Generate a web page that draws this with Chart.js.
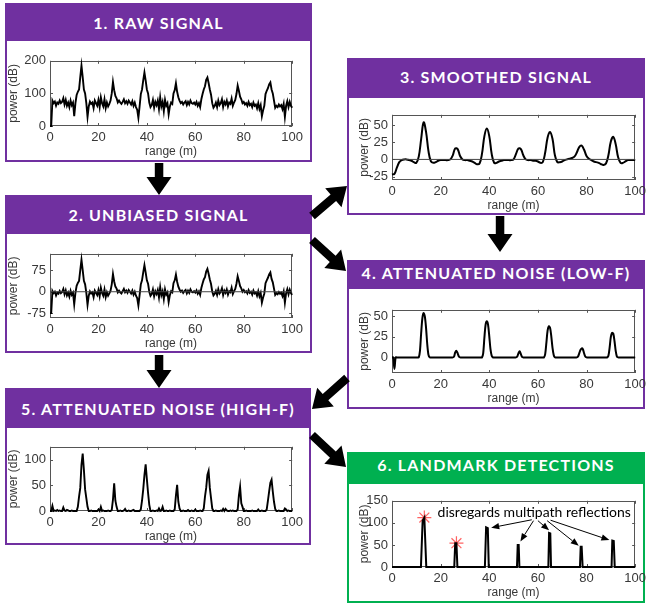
<!DOCTYPE html>
<html>
<head>
<meta charset="utf-8">
<script src="https://cdn.jsdelivr.net/npm/chart.js@4"></script>
<style>
body { margin:0; background:#fff; width:649px; height:608px; position:relative; overflow:hidden; }
.box { position:absolute; border:2px solid #7030a0; box-sizing:border-box; background:#fff; }
.box .head { position:absolute; left:0; top:0; right:0; background:#7030a0; color:#fff;
  font-family:Lato, 'Open Sans', sans-serif; font-weight:bold; font-size:16px; letter-spacing:1.2px; text-align:center; white-space:nowrap; }
.box.green { border-color:#00b050; }
.box.green .head { background:#00b050; }
canvas { position:absolute; z-index:2; }
svg { position:absolute; left:0; top:0; z-index:3; }
</style>
</head>
<body>

<div class="box" style="left:5px;top:3px;width:307px;height:159px"><div class="head" style="height:36px;line-height:36px">1. RAW SIGNAL</div></div>
<div class="box" style="left:5px;top:195px;width:307px;height:158px"><div class="head" style="height:37px;line-height:35px">2. UNBIASED SIGNAL</div></div>
<div class="box" style="left:347px;top:58px;width:298px;height:157px"><div class="head" style="height:38px;line-height:33px">3. SMOOTHED SIGNAL</div></div>
<div class="box" style="left:347px;top:260px;width:298px;height:149px"><div class="head" style="height:27px;line-height:21px">4. ATTENUATED NOISE (LOW-F)</div></div>
<div class="box" style="left:5px;top:388px;width:306px;height:157px"><div class="head" style="height:38px;line-height:37px">5. ATTENUATED NOISE (HIGH-F)</div></div>
<div class="box green" style="left:347px;top:452px;width:298px;height:151px"><div class="head" style="height:30px;line-height:22px">6. LANDMARK DETECTIONS</div></div>

<canvas id="c1" width="301" height="113" style="left:6px;top:49px"></canvas>
<canvas id="c2" width="301" height="112" style="left:6px;top:242px"></canvas>
<canvas id="c3" width="293" height="113" style="left:357px;top:103px"></canvas>
<canvas id="c4" width="293" height="111" style="left:357px;top:298px"></canvas>
<canvas id="c5" width="301" height="112" style="left:6px;top:435px"></canvas>
<canvas id="c6" width="293" height="114" style="left:357px;top:489px"></canvas>

<svg id="flow" width="649" height="608"></svg>

<script>
//-------------------------DATA (range sampled every 0.5 m unless noted)-------------------------

const rangeStep = 0.5;
const rangeTicks = [0, 20, 40, 60, 80, 100];

const rawPower = [
    0, 0, 78, 70, 75, 62, 72, 68, 78, 70, 74, 85, 66, 80, 62, 72, 58, 78, 64, 72,
    30, 70, 95, 105, 112, 150, 185, 150, 112, 100, 70, 28, 60, 75, 68, 72, 55, 78, 70, 62,
    80, 58, 88, 70, 60, 82, 55, 72, 60, 68, 78, 100, 135, 110, 92, 85, 72, 78, 72, 68,
    74, 82, 70, 76, 68, 78, 72, 66, 76, 62, 72, 58, 50, 25, 60, 98, 112, 140, 164, 140,
    112, 100, 72, 58, 64, 80, 56, 74, 64, 78, 52, 88, 60, 74, 46, 80, 62, 70, 36, 60,
    72, 68, 100, 110, 131, 105, 88, 78, 70, 74, 66, 72, 76, 64, 74, 66, 78, 70, 68, 72,
    66, 74, 62, 70, 58, 82, 98, 112, 122, 142, 149, 132, 112, 96, 70, 56, 62, 72, 58, 78,
    64, 70, 82, 58, 74, 66, 78, 60, 72, 68, 84, 62, 72, 80, 98, 124, 108, 90, 82, 70,
    74, 66, 70, 62, 74, 64, 68, 58, 72, 62, 66, 54, 70, 52, 64, 30, 48, 62, 98, 108,
    116, 128, 134, 112, 100, 78, 56, 62, 58, 66, 60, 64, 52, 68, 28, 62, 76, 58, 74, 62,
    56
];
const rawTicks = [0, 100, 200];

const unbiasedPower = [
    -75, -75, 3, -5, 0, -13, -3, -7, 3, -5, -1, 10, -9, 5, -13, -3, -17, 3, -11, -3,
    -44, -4, 21, 31, 38, 76, 112, 76, 38, 26, -4, -46, -14, 1, -6, -2, -19, 4, -4, -12,
    6, -16, 14, -4, -14, 8, -19, -2, -14, -6, 4, 26, 62, 36, 18, 11, -2, 4, -2, -6,
    2, 10, -2, 4, -4, 6, 0, -6, 4, -10, 0, -14, -22, -48, -12, 26, 40, 68, 93, 68,
    40, 28, 0, -14, -8, 8, -16, 2, -8, 6, -20, 16, -12, 2, -26, 8, -10, -2, -36, -12,
    2, -2, 30, 40, 60, 35, 18, 8, 0, 4, -4, 2, 6, -6, 4, -4, 8, 0, -2, 2,
    -3, 5, -7, 1, -11, 13, 29, 43, 51, 71, 80, 63, 43, 27, 1, -13, -7, 3, -11, 9,
    -6, 0, 12, -12, 4, -4, 8, -10, 2, -2, 14, -8, 2, 10, 28, 54, 38, 20, 12, 0,
    6, -2, 2, -6, 6, -4, 0, -10, 4, -6, -2, -14, 2, -16, -4, -38, -20, -6, 30, 40,
    49, 61, 68, 45, 33, 11, -11, -5, -9, -1, -7, -3, -15, 1, -38, -5, 9, -9, 7, -5,
    -11
];
const unbiasedTicks = [-75, 0, 75];

// smoothed signal, sampled every 1 m
const smoothStep = 1;
const smoothedPower = [
    -22, -21, -12, -4, -1, 0, 0, -1, -2, -4,
    -5, 4, 30, 54, 40, 12, -3, -5, -4, -2,
    -1, -1, -1, -1, 0, 6, 16, 15, 5, 0,
    -1, -1, -2, -3, -5, -7, -6, 8, 34, 45,
    34, 8, -5, -5, -3, -2, -1, -1, -1, -1,
    0, 8, 16, 15, 6, 0, -1, -1, -2, -2,
    -3, -5, -4, 10, 32, 40, 30, 6, -4, -4,
    -3, -1, 0, 1, 2, 4, 10, 18, 20, 14,
    5, 1, -1, -3, -4, -5, -7, -8, -6, 6,
    26, 33, 22, 3, -5, -5, -3, -1, -1, -1,
    -1
];
const smoothedTicks = [-25, 0, 25, 50];

const lowFPower = [
    0, 0, -14, 0, 0, 0, 0, 0, 0, 0, 0, 0, 0, 0, 0, 0, 0, 0, 0, 0,
    0, 0, 0, 8, 30, 48, 54, 50, 36, 16, 3, 0, 0, 0, 0, 0, 0, 0, 0, 0,
    0, 0, 0, 0, 0, 0, 0, 0, 0, 0, 0, 1, 6, 8, 5, 1, 0, 0, 0, 0,
    0, 0, 0, 0, 0, 0, 0, 0, 0, 0, 0, 0, 0, 0, 0, 5, 24, 40, 44, 40,
    26, 10, 2, 0, 0, 0, 0, 0, 0, 0, 0, 0, 0, 0, 0, 0, 0, 0, 0, 0,
    0, 0, 0, 1, 5, 7.5, 4, 0.5, 0, 0, 0, 0, 0, 0, 0, 0, 0, 0, 0, 0,
    0, 0, 0, 0, 0, 0, 4, 18, 33, 38, 36, 26, 12, 3, 0, 0, 0, 0, 0, 0,
    0, 0, 0, 0, 0, 0, 0, 0, 0, 0, 0, 0, 0, 1, 5, 9, 11, 10, 5, 1,
    0, 0, 0, 0, 0, 0, 0, 0, 0, 0, 0, 0, 0, 0, 0, 0, 0, 0, 2, 12,
    25, 30, 29, 20, 8, 1, 0, 0, 0, 0, 0, 0, 0, 0, 0, 0, 0, 0, 0, 0,
    0
];
const lowFTicks = [0, 25, 50];

const highFPower = [
    0, 0, 10, 0, 1, 0, 2, 0, 1, 0, 0, 7, 1, 0, 2, 1, 0, 0, 1, 0,
    0, 0, 0, 8, 28, 45, 90, 112, 80, 42, 25, 8, 0, 0, 1, 0, 0, 0, 0, 0,
    3, 0, 8, 0, 1, 0, 0, 0, 1, 0, 0, 2, 22, 54, 20, 8, 0, 0, 1, 0,
    0, 1, 4, 0, 0, 1, 0, 0, 1, 2, 0, 0, 0, 0, 0, 3, 20, 42, 70, 91,
    62, 35, 12, 0, 0, 1, 0, 0, 1, 0, 5, 0, 1, 8, 0, 0, 1, 0, 0, 1,
    0, 0, 0, 3, 30, 51, 18, 5, 0, 0, 1, 0, 0, 0, 2, 0, 0, 1, 0, 0,
    3, 0, 0, 0, 1, 0, 0, 5, 28, 45, 70, 78, 45, 25, 5, 0, 0, 1, 0, 0,
    0, 1, 0, 4, 0, 4, 1, 0, 0, 1, 0, 1, 0, 0, 0, 3, 30, 47, 15, 8,
    0, 0, 1, 0, 0, 0, 0, 1, 0, 0, 0, 0, 3, 0, 0, 1, 0, 0, 0, 3,
    20, 38, 55, 61, 38, 18, 4, 0, 0, 1, 0, 0, 0, 0, 5, 3, 0, 1, 0, 0,
    0
];
const highFTicks = [0, 50, 100];

const landmarkRange = [0, 11.9, 12.6, 13.3, 14.1, 25.6, 26.0, 26.5, 26.9, 38.2, 38.7, 39.4, 39.8,
    51.4, 51.7, 52.1, 52.4, 64.3, 64.6, 65.1, 65.4, 77.3, 77.6, 78.0, 78.4, 90.3, 90.6, 91.2, 91.6, 100];
const landmarkPower = [0, 0, 105, 112, 0, 0, 54, 54, 0, 0, 90, 88, 0,
    0, 50, 50, 0, 0, 77, 76, 0, 0, 46, 46, 0, 0, 60, 59, 0, 0];
const detectRange = [13.3, 26.5];
const detectPower = [112, 54];
const landmarkTicks = [0, 50, 100, 150];

const noteText = 'disregards multipath reflections';
const notePos = [58.5, 123];
// from (range, power) -> to (range, power)
const noteArrows = [
    [57.5, 107, 40.8, 89],
    [58.2, 105, 52.8, 58],
    [60, 105, 64.6, 83],
    [63.8, 105, 76.8, 48],
    [65.2, 106, 89.4, 61]
];

//-------------------------HELPERS-------------------------

const tickColor = '#383838';
const tickFont = {family: "'Liberation Sans', Arial, sans-serif", size: 13};
const titleFont = {family: "'Liberation Sans', Arial, sans-serif", size: 12};

function toPoints(values, step) {
    return values.map((v, i) => ({x: i * step, y: v}));
}

function xyPoints(xs, ys) {
    return xs.map((x, i) => ({x: x, y: ys[i]}));
}

function lineSet(points, width, tension) {
    return {data: points, borderColor: '#000', borderWidth: width, pointRadius: 0,
            tension: tension || 0, fill: false, clip: false};
}

function zeroLine() {
    return {data: [{x: 0, y: 0}, {x: 100, y: 0}], borderColor: '#444', borderWidth: 1,
            pointRadius: 0, fill: false};
}

// matlab-like box with ticks pointing inwards
const matlabAxes = {
    id: 'matlabAxes',
    beforeDatasetsDraw(chart) {
        const ctx = chart.ctx, a = chart.chartArea, sx = chart.scales.x, sy = chart.scales.y;
        ctx.save();
        ctx.strokeStyle = '#555';
        ctx.lineWidth = 1;
        ctx.strokeRect(Math.round(a.left) + 0.5, Math.round(a.top) + 0.5,
                       Math.round(a.width) - 1, Math.round(a.height) - 1);
        ctx.beginPath();
        sx.ticks.forEach(t => {
            const px = Math.round(sx.getPixelForValue(t.value)) + 0.5;
            ctx.moveTo(px, a.bottom); ctx.lineTo(px, a.bottom - 3);
            ctx.moveTo(px, a.top); ctx.lineTo(px, a.top + 3);
        });
        sy.ticks.forEach(t => {
            const py = Math.round(sy.getPixelForValue(t.value)) + 0.5;
            ctx.moveTo(a.left, py); ctx.lineTo(a.left + 3, py);
            ctx.moveTo(a.right, py); ctx.lineTo(a.right - 3, py);
        });
        ctx.stroke();
        ctx.restore();
    }
};

function makeChart(id, datasets, yMin, yMax, yTicks, yWidth, extra) {
    return new Chart(document.getElementById(id), {
        type: 'line',
        data: {datasets: datasets},
        options: {
            responsive: false,
            animation: false,
            layout: {padding: {top: 10, right: 12, left: 0, bottom: 0}},
            plugins: {legend: {display: false}, tooltip: {enabled: false}},
            scales: {
                x: {
                    type: 'linear', min: 0, max: 100,
                    grid: {display: false, drawTicks: false}, border: {display: false},
                    afterBuildTicks: s => { s.ticks = rangeTicks.map(v => ({value: v})); },
                    afterFit: s => { s.height = 36; },
                    ticks: {padding: 4, color: tickColor, font: tickFont, maxRotation: 0},
                    title: {display: true, text: 'range (m)', color: tickColor, font: titleFont,
                            padding: {top: 0, bottom: 3}}
                },
                y: {
                    type: 'linear', min: yMin, max: yMax,
                    grid: {display: false, drawTicks: false}, border: {display: false},
                    afterBuildTicks: s => { s.ticks = yTicks.map(v => ({value: v})); },
                    afterFit: s => { s.width = yWidth; },
                    ticks: {padding: 4, color: tickColor, font: tickFont},
                    title: {display: true, text: 'power (dB)', color: tickColor, font: titleFont,
                            padding: 0}
                }
            }
        },
        plugins: [matlabAxes].concat(extra || [])
    });
}

//-------------------------ANNOTATION FOR PANEL 6-------------------------

const noteLabel = {
    id: 'noteLabel',
    afterDatasetsDraw(chart) {
        const ctx = chart.ctx, sx = chart.scales.x, sy = chart.scales.y;
        ctx.save();
        ctx.fillStyle = '#000';
        ctx.strokeStyle = '#000';
        ctx.lineWidth = 1;
        ctx.font = "14px Lato, 'Open Sans', sans-serif";
        ctx.textAlign = 'center';
        ctx.textBaseline = 'middle';
        ctx.fillText(noteText, sx.getPixelForValue(notePos[0]), sy.getPixelForValue(notePos[1]));
        noteArrows.forEach(a => {
            const x1 = sx.getPixelForValue(a[0]), y1 = sy.getPixelForValue(a[1]);
            const x2 = sx.getPixelForValue(a[2]), y2 = sy.getPixelForValue(a[3]);
            const ang = Math.atan2(y2 - y1, x2 - x1);
            const hl = 8, hw = 3.2;
            const bx = x2 - Math.cos(ang) * hl, by = y2 - Math.sin(ang) * hl;
            ctx.beginPath();
            ctx.moveTo(x1, y1); ctx.lineTo(bx, by);
            ctx.stroke();
            ctx.beginPath();
            ctx.moveTo(x2, y2);
            ctx.lineTo(bx + Math.sin(ang) * hw, by - Math.cos(ang) * hw);
            ctx.lineTo(bx - Math.sin(ang) * hw, by + Math.cos(ang) * hw);
            ctx.closePath();
            ctx.fill();
        });
        ctx.restore();
    }
};

//-------------------------CHARTS-------------------------

makeChart('c1', [lineSet(toPoints(rawPower, rangeStep), 1.9)], 0, 200, rawTicks, 44);

makeChart('c2', [zeroLine(), lineSet(toPoints(unbiasedPower, rangeStep), 1.9)],
          -92, 133, unbiasedTicks, 44);

makeChart('c3', [zeroLine(), lineSet(toPoints(smoothedPower, smoothStep), 2, 0.4)],
          -30, 65, smoothedTicks, 35);

makeChart('c4', [lineSet(toPoints(lowFPower, rangeStep), 2, 0.3)],
          -19, 58, lowFTicks, 35);

makeChart('c5', [lineSet(toPoints(highFPower, rangeStep), 1.9)], 0, 125, highFTicks, 44);

makeChart('c6', [
    lineSet(xyPoints(landmarkRange, landmarkPower), 2),
    {data: xyPoints(detectRange, detectPower), showLine: false, pointStyle: 'star',
     pointRadius: 7, borderColor: 'rgba(255, 70, 70, 0.85)', borderWidth: 1.2, clip: false}
], 0, 150, landmarkTicks, 35, [noteLabel]);

//-------------------------FLOW ARROWS-------------------------

const flowArrows = [
    [159, 163, 159, 195],
    [312, 216, 347, 186],
    [312, 240, 346, 271],
    [500, 216, 500, 252],
    [347, 378, 312, 409],
    [312, 435, 346, 467],
    [159, 355, 159, 388]
];

function arrowPoly(x1, y1, x2, y2, shaft, head, headLen) {
    const len = Math.hypot(x2 - x1, y2 - y1);
    const ux = (x2 - x1) / len, uy = (y2 - y1) / len, nx = -uy, ny = ux;
    const bx = x2 - ux * headLen, by = y2 - uy * headLen;
    const pts = [
        [x1 + nx * shaft / 2, y1 + ny * shaft / 2],
        [bx + nx * shaft / 2, by + ny * shaft / 2],
        [bx + nx * head / 2, by + ny * head / 2],
        [x2, y2],
        [bx - nx * head / 2, by - ny * head / 2],
        [bx - nx * shaft / 2, by - ny * shaft / 2],
        [x1 - nx * shaft / 2, y1 - ny * shaft / 2]
    ];
    return pts.map(p => p[0].toFixed(1) + ',' + p[1].toFixed(1)).join(' ');
}

const svg = document.getElementById('flow');
flowArrows.forEach(a => {
    const poly = document.createElementNS('http://www.w3.org/2000/svg', 'polygon');
    poly.setAttribute('points', arrowPoly(a[0], a[1], a[2], a[3], 8.5, 25, 18));
    poly.setAttribute('fill', '#000');
    svg.appendChild(poly);
});
</script>
</body>
</html>
